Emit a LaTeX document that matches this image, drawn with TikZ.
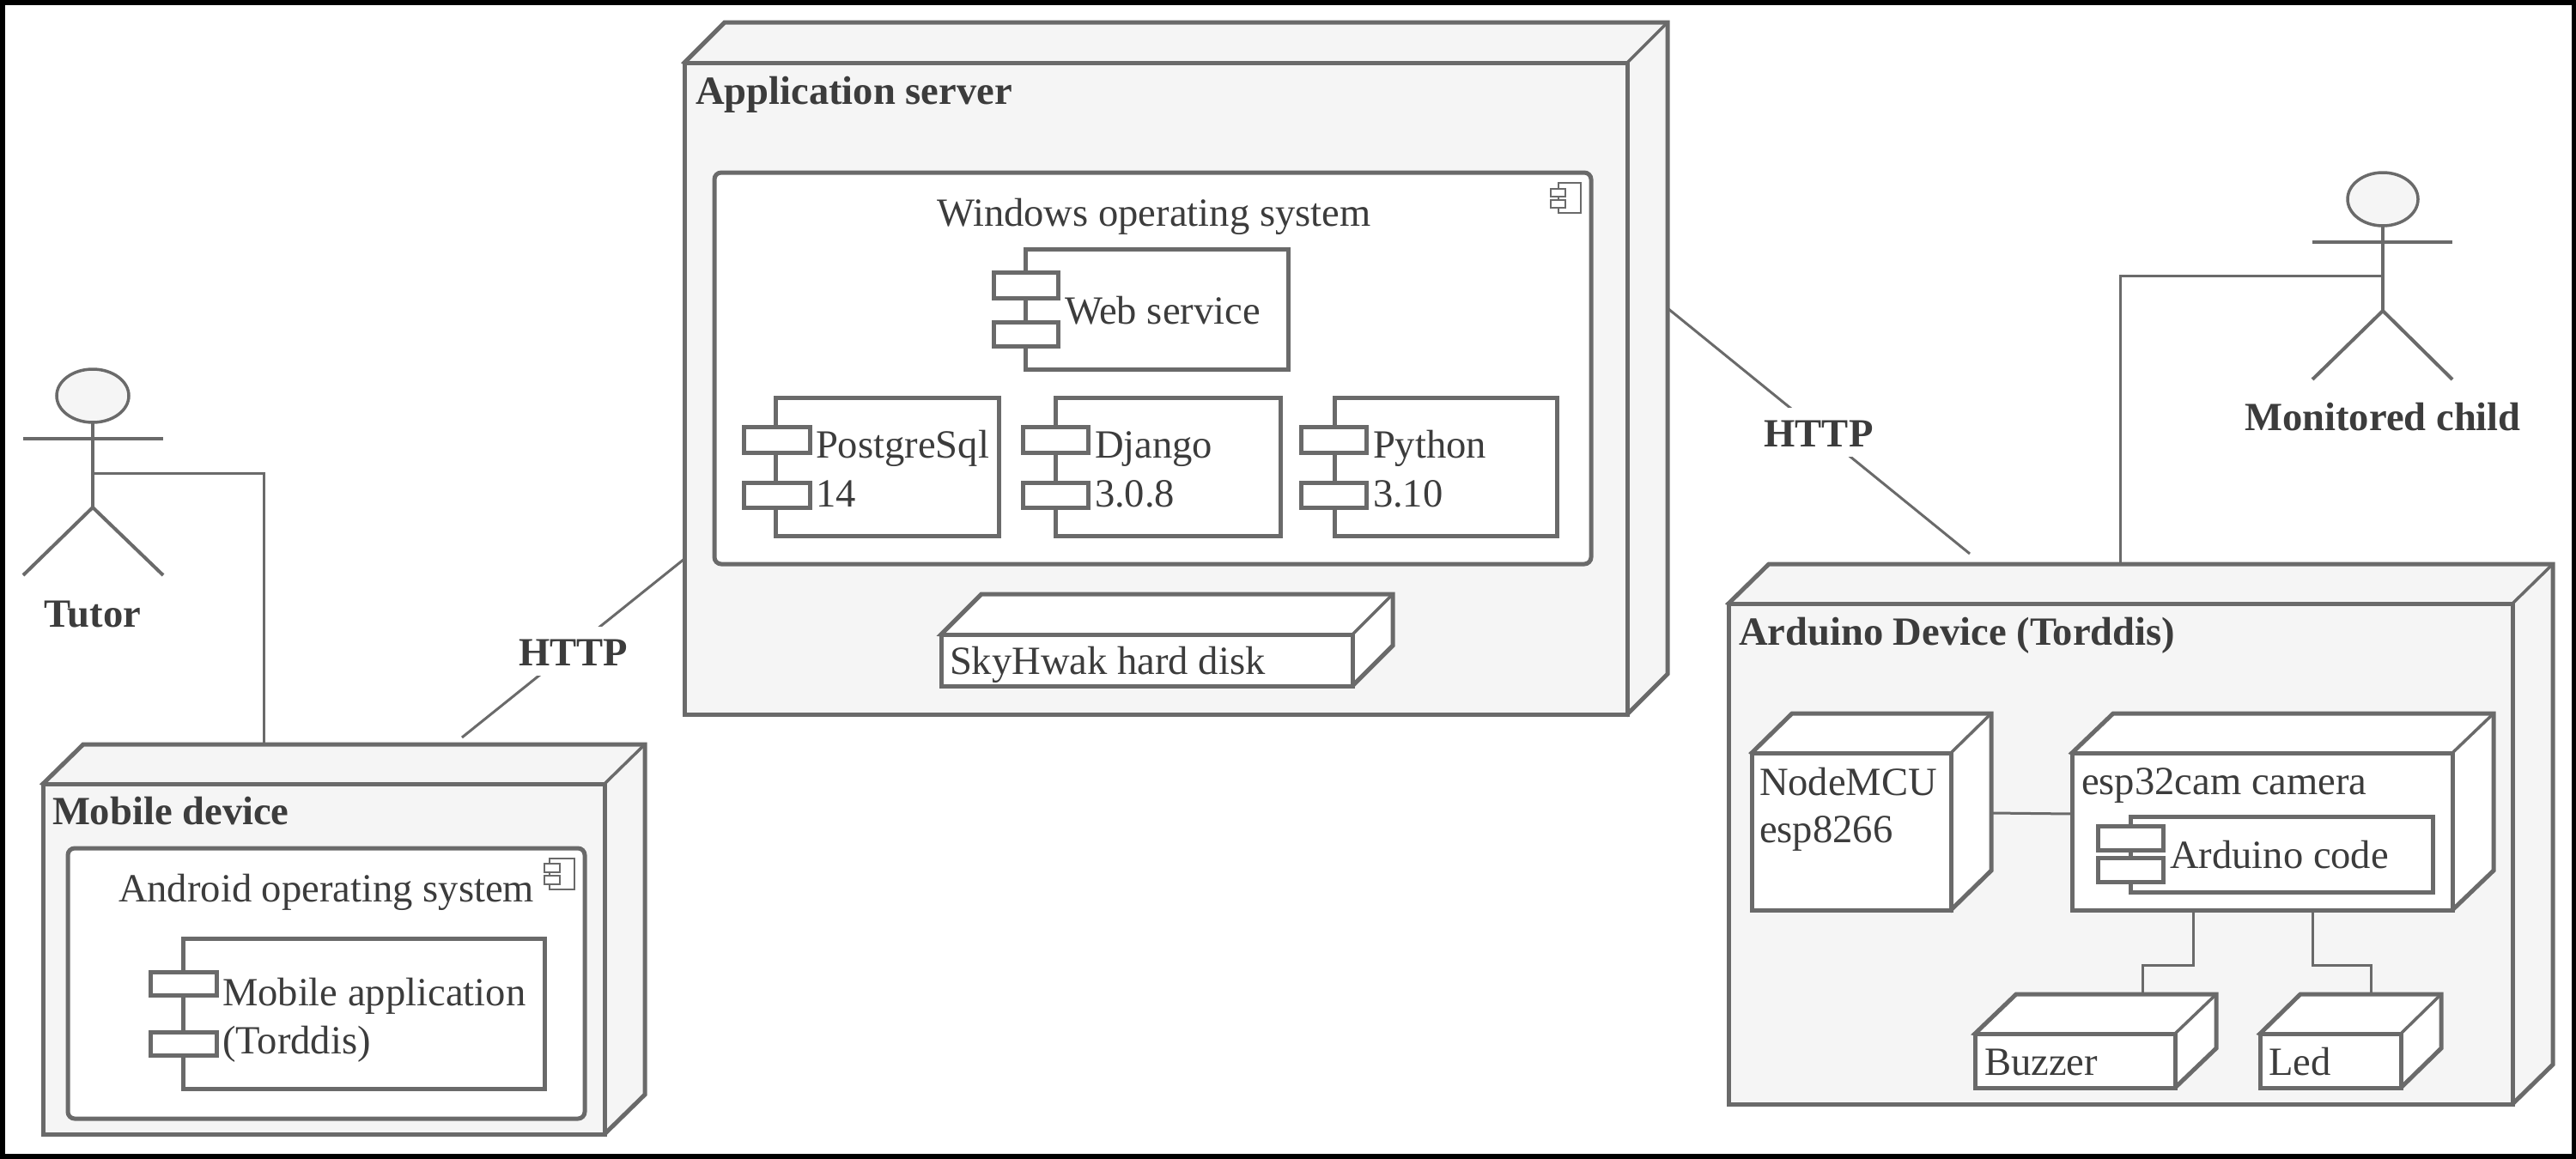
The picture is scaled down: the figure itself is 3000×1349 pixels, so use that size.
\documentclass[tikz,border=0pt]{standalone}
\usepackage{fontspec}
\setmainfont{Liberation Serif}
\usetikzlibrary{calc,shapes.geometric}
\definecolor{ln}{HTML}{6A6A6A}
\definecolor{nodefill}{HTML}{F5F5F5}
\definecolor{txt}{HTML}{3C3C3C}
\tikzset{
  facebox/.style={draw=ln,line width=5pt,inner sep=0pt,outer sep=0pt,rectangle},
  greyface/.style={facebox,fill=nodefill},
  whiteface/.style={facebox,fill=white},
  roundface/.style={facebox,fill=white,rounded corners=8pt},
  lug/.style={facebox,fill=white},
  tinyicon/.style={draw=ln,line width=2pt,inner sep=0pt,outer sep=0pt,rectangle,fill=white},
  conn/.style={draw=ln,line width=3pt},
  limb/.style={draw=ln,line width=4pt},
  lab/.style={anchor=base west,inner sep=0pt,outer sep=0pt,text=txt,font=\fontsize{46.6}{46.6}\selectfont},
  blab/.style={lab,font=\fontsize{46.6}{46.6}\selectfont\bfseries},
  clab/.style={blab,anchor=base},
  hlab/.style={inner sep=0pt,outer sep=0pt,fill=white,text=txt,minimum width=130pt,minimum height=57pt,text height=33pt,text depth=0pt,font=\fontsize{46.6}{46.6}\selectfont\bfseries},
  headshape/.style={draw=ln,line width=3.5pt,fill=nodefill,ellipse,inner sep=0pt,outer sep=0pt},
}
% rectangle node given by its corners
\newcommand{\boxnode}[6][whiteface]{%
  \pgfmathsetmacro{\bw}{#5-#3}\pgfmathsetmacro{\bh}{#6-#4}%
  \node[#1,minimum width=\bw pt,minimum height=\bh pt] (#2) at ({(#3+#5)/2},{(#4+#6)/2}) {};}
% 3-D node: fill, name, front face corners, depth
\newcommand{\cubenode}[8]{%
  \pgfmathsetmacro{\cxa}{#3+#7}\pgfmathsetmacro{\cxb}{#5+#7}%
  \pgfmathsetmacro{\cya}{#4-#8}\pgfmathsetmacro{\cyb}{#6-#8}%
  \filldraw[draw=ln,line width=5pt,fill=#1]
    (#3,#4) -- (\cxa,\cya) -- (\cxb,\cya) -- (\cxb,\cyb) -- (#5,#6) -- cycle;
  \draw[draw=ln,line width=3.5pt] (#5,#4) -- (\cxb,\cya);
  \boxnode[facebox,fill=#1]{#2}{#3}{#4}{#5}{#6}%
}
\begin{document}
\begin{tikzpicture}[x=1pt,y=-1pt]
\useasboundingbox (0,0) rectangle (3000,1349);
\draw[black,line width=11pt,fill=white] (0,0) rectangle (3000,1349);

% ---------- Application server ----------
\cubenode{nodefill}{appserver}{797}{73}{1895}{832}{47}{47}
\node[blab] (appserverlab) at (810,121) {Application server};
\boxnode[roundface]{winos}{832}{201}{1853}{657}
\node[lab] (winoslab) at (1091,263) {Windows operating system};
\boxnode[tinyicon]{wicon}{1815}{213}{1841}{248}
\boxnode[tinyicon]{wicona}{1806}{220}{1823}{229}
\boxnode[tinyicon]{wiconb}{1806}{233}{1823}{242}

\boxnode{web}{1194}{290}{1500}{430}
\boxnode[lug]{webluga}{1157}{317}{1232}{347}
\boxnode[lug]{weblugb}{1157}{375}{1232}{403}
\node[lab] (weblab) at (1240,377) {Web service};

\boxnode{pg}{903}{463}{1163}{624}
\boxnode[lug]{pgluga}{866}{497}{943}{527}
\boxnode[lug]{pglugb}{866}{562}{943}{591}
\node[lab] (pglab) at (950,533) {PostgreSql};
\node[lab] (pglabb) at (950,590) {14};

\boxnode{dj}{1229}{463}{1491}{624}
\boxnode[lug]{djluga}{1191}{497}{1267}{527}
\boxnode[lug]{djlugb}{1191}{562}{1267}{591}
\node[lab] (djlab) at (1275,533) {Django};
\node[lab] (djlabb) at (1275,590) {3.0.8};

\boxnode{py}{1554}{463}{1813}{624}
\boxnode[lug]{pyluga}{1515}{497}{1591}{527}
\boxnode[lug]{pylugb}{1515}{562}{1591}{591}
\node[lab] (pylab) at (1599,533) {Python};
\node[lab] (pylabb) at (1599,590) {3.10};

\cubenode{white}{disk}{1096}{739}{1575}{799}{47}{47}
\node[lab] (disklab) at (1106,785) {SkyHwak hard disk};

% ---------- Mobile device ----------
\cubenode{nodefill}{mobile}{50}{913}{704}{1321}{47}{46}
\node[blab] (mobilelab) at (61,960) {Mobile device};
\boxnode[roundface]{andos}{79}{988}{681}{1303}
\node[lab] (andoslab) at (138,1050) {Android operating system};
\boxnode[tinyicon]{aicon}{640}{1000}{669}{1036}
\boxnode[tinyicon]{aicona}{634}{1006}{652}{1016}
\boxnode[tinyicon]{aiconb}{634}{1020}{652}{1030}
\boxnode{app}{213}{1093}{634}{1268}
\boxnode[lug]{appluga}{175}{1132}{252}{1159}
\boxnode[lug]{applugb}{175}{1202}{252}{1229}
\node[lab] (applab) at (259,1171) {Mobile application};
\node[lab] (applabb) at (259,1227) {(Torddis)};

% ---------- Arduino device ----------
\cubenode{nodefill}{arduino}{2013}{703}{2926}{1286}{47}{46}
\node[blab] (arduinolab) at (2025,751) {Arduino Device (Torddis)};
\cubenode{white}{nodemcu}{2040}{877}{2272}{1060}{47}{46}
\node[lab] (nodemculab) at (2049,926) {NodeMCU};
\node[lab] (nodemculabb) at (2049,981) {esp8266};
\cubenode{white}{esp}{2413}{877}{2856}{1060}{48}{46}
\node[lab] (esplab) at (2424,925) {esp32cam camera};
\boxnode{code}{2481}{951}{2833}{1039}
\boxnode[lug]{codeluga}{2443}{962}{2519}{990}
\boxnode[lug]{codelugb}{2443}{999}{2519}{1027}
\node[lab] (codelab) at (2527,1011) {Arduino code};
\cubenode{white}{buzzer}{2300}{1204}{2533}{1267}{48}{46}
\node[lab] (buzzerlab) at (2311,1252) {Buzzer};
\cubenode{white}{led}{2632}{1204}{2796}{1267}{47}{46}
\node[lab] (ledlab) at (2642,1252) {Led};

% ---------- Actors ----------
\node[headshape,minimum width=84pt,minimum height=62pt] (tutor) at (108,461) {};
\coordinate (tutorhip) at (108,591);
\coordinate (tutorwaist) at (108,551);
\draw[limb] (tutor.south) -- (tutorhip);
\draw[limb] (27,511) -- (190,511);
\draw[limb] (27,670) -- (tutorhip) -- (190,670);
\node[clab] (tutorlab) at (108,730) {Tutor};

\node[headshape,minimum width=82pt,minimum height=62pt] (child) at (2775,232) {};
\coordinate (childhip) at (2775,362);
\coordinate (childwaist) at (2775,321);
\draw[limb] (child.south) -- (childhip);
\draw[limb] (2693,282) -- (2856,282);
\draw[limb] (2693,442) -- (childhip) -- (2856,442);
\node[clab] (childlab) at (2775,501) {Monitored child};

% ---------- Connectors ----------
\draw[conn] (tutorwaist) -| ($(mobile.north west)+(257,-46)$) -- ($(mobile.north west)+(271,-46)$);
\draw[conn] (childwaist) -| ($(arduino.north west)+(456,-46)$);
\draw[conn] ($(appserver.south west)+(0,-181)$) -- ($(mobile.north west)+(488,-54)$);
\node[hlab] (httpa) at (668,758.5) {HTTP};
\draw[conn] ($(appserver.north east)+(47,286)$) -- ($(arduino.north west)+(281,-58)$);
\node[hlab] (httpb) at (2118,503.5) {HTTP};
\draw[conn] ($(nodemcu.north east)+(47,70)$) -- ($(esp.north west)+(0,71)$);
\draw[conn] ($(esp.south west)+(141,0)$) |- ($(buzzer.north west)+(195,-80)$) -- ($(buzzer.north west)+(195,-46)$);
\draw[conn] ($(esp.south west)+(280,0)$) |- ($(led.north west)+(129,-80)$) -- ($(led.north west)+(129,-46)$);
\end{tikzpicture}
\end{document}
